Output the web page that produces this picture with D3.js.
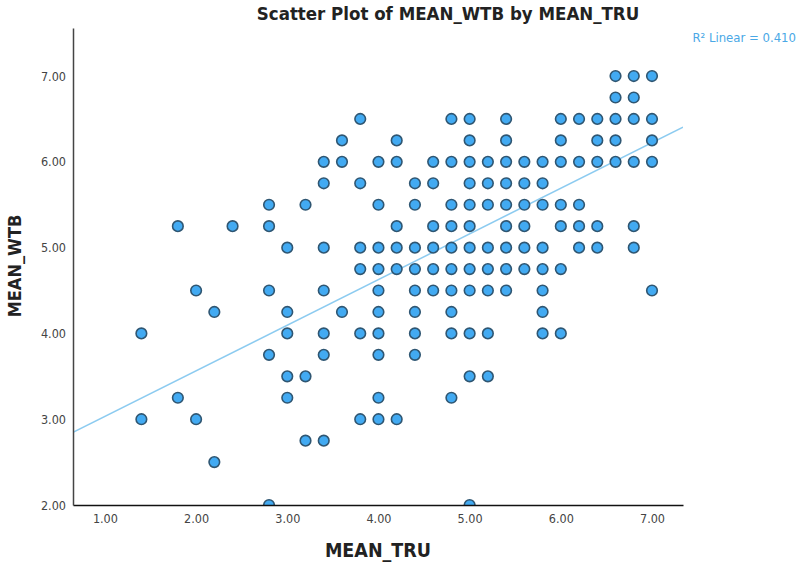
<!DOCTYPE html>
<html>
<head>
<meta charset="utf-8">
<script src="https://cdn.jsdelivr.net/npm/d3@7"></script>
<style>
  body { margin: 0; background: #fff; }
  text { font-family: "Liberation Sans Narrow", "DejaVu Sans Condensed", "Liberation Sans", sans-serif; }
</style>
</head>
<body>
<div id="chart"></div>
<script>
// points: one array of MEAN_TRU values per MEAN_WTB row
var rowWTB = [7.0, 6.75, 6.5, 6.25, 6.0, 5.75, 5.5, 5.25, 5.0, 4.75, 4.5, 4.25, 4.0, 3.75, 3.5, 3.25, 3.0, 2.75, 2.5, 2.0];
var rowTRU = [
  [6.6, 6.8, 7.0],
  [6.6, 6.8],
  [3.8, 4.8, 5.0, 5.4, 6.0, 6.2, 6.4, 6.6, 6.8, 7.0],
  [3.6, 4.2, 5.0, 5.4, 6.0, 6.4, 6.6, 7.0],
  [3.4, 3.6, 4.0, 4.2, 4.6, 4.8, 5.0, 5.2, 5.4, 5.6, 5.8, 6.0, 6.2, 6.4, 6.6, 6.8, 7.0],
  [3.4, 3.8, 4.4, 4.6, 5.0, 5.2, 5.4, 5.6, 5.8],
  [2.8, 3.2, 4.0, 4.4, 4.8, 5.0, 5.2, 5.4, 5.6, 5.8, 6.0, 6.2],
  [1.8, 2.4, 2.8, 4.2, 4.6, 4.8, 5.0, 5.4, 5.6, 6.0, 6.2, 6.4, 6.8],
  [3.0, 3.4, 3.8, 4.0, 4.2, 4.4, 4.6, 4.8, 5.0, 5.2, 5.4, 5.6, 5.8, 6.2, 6.4, 6.8],
  [3.8, 4.0, 4.2, 4.4, 4.6, 4.8, 5.0, 5.2, 5.4, 5.6, 5.8, 6.0],
  [2.0, 2.8, 3.4, 4.0, 4.4, 4.6, 4.8, 5.0, 5.2, 5.4, 5.8, 7.0],
  [2.2, 3.0, 3.6, 4.0, 4.4, 4.8, 5.8],
  [1.4, 3.0, 3.4, 3.8, 4.0, 4.4, 4.8, 5.0, 5.2, 5.8, 6.0],
  [2.8, 3.4, 4.0, 4.4],
  [3.0, 3.2, 5.0, 5.2],
  [1.8, 3.0, 4.0, 4.8],
  [1.4, 2.0, 3.8, 4.0, 4.2],
  [3.2, 3.4],
  [2.2],
  [2.8, 5.0]
];
var xTicks = [1, 2, 3, 4, 5, 6, 7];
var yTicks = [2, 3, 4, 5, 6, 7];
var fitLine = [2.50, 0.532]; // intercept, slope
var rSquared = 0.410;

var W = 798, H = 563;
var margin = {top: 28, right: 115, bottom: 58, left: 73};
var w = W - margin.left - margin.right;
var h = H - margin.top - margin.bottom;

var points = [];
rowWTB.forEach(function(yv, i) {
  rowTRU[i].forEach(function(xv) { points.push({x: xv, y: yv}); });
});

var svg = d3.select("#chart").append("svg")
  .attr("width", W).attr("height", H);

var g = svg.append("g")
  .attr("transform", "translate(" + margin.left + "," + margin.top + ")");

var xScale = d3.scaleLinear().domain([0.65, 7.34]).range([0, w]);
var yScale = d3.scaleLinear().domain([2, 7.56]).range([h, 0]);

g.append("clipPath").attr("id", "plotClip")
  .append("rect").attr("x", 0).attr("y", 0).attr("width", w).attr("height", h);

// fit line
var x0 = xScale.domain()[0], x1 = xScale.domain()[1];
g.append("line")
  .attr("clip-path", "url(#plotClip)")
  .attr("x1", xScale(x0)).attr("y1", yScale(fitLine[0] + fitLine[1] * x0))
  .attr("x2", xScale(x1)).attr("y2", yScale(fitLine[0] + fitLine[1] * x1))
  .attr("stroke", "#8ccbf0")
  .attr("stroke-width", 1.5);

g.append("g").attr("clip-path", "url(#plotClip)")
  .selectAll("circle")
  .data(points)
  .enter().append("circle")
  .attr("cx", function(d) { return xScale(d.x); })
  .attr("cy", function(d) { return yScale(d.y); })
  .attr("r", 5.3)
  .attr("fill", "#42aaf2")
  .attr("stroke", "#2f5672")
  .attr("stroke-width", 1.6);

// axes
var xAxis = g.append("g")
  .attr("transform", "translate(0," + h + ")")
  .call(d3.axisBottom(xScale).tickValues(xTicks).tickSize(0).tickPadding(9)
    .tickFormat(d3.format(".2f")));
xAxis.select(".domain").attr("stroke", "#111").attr("stroke-width", 1.5);
xAxis.selectAll("text").attr("font-size", 12.5).attr("fill", "#444")
  .style("font-family", "'Liberation Sans Narrow', 'DejaVu Sans Condensed', sans-serif");

var yAxis = g.append("g")
  .call(d3.axisLeft(yScale).tickValues(yTicks).tickSize(0).tickPadding(7)
    .tickFormat(d3.format(".2f")));
yAxis.select(".domain").attr("stroke", "#444").attr("stroke-width", 1.5);
yAxis.selectAll("text").attr("font-size", 12.5).attr("fill", "#444")
  .style("font-family", "'Liberation Sans Narrow', 'DejaVu Sans Condensed', sans-serif");

// titles
svg.append("text")
  .attr("x", 448).attr("y", 20)
  .attr("text-anchor", "middle")
  .attr("font-size", 18.5).attr("font-weight", "bold").attr("fill", "#222")
  .text("Scatter Plot of MEAN_WTB by MEAN_TRU");

svg.append("text")
  .attr("x", 378).attr("y", 557)
  .attr("text-anchor", "middle")
  .attr("font-size", 19.5).attr("font-weight", "bold").attr("fill", "#222")
  .text("MEAN_TRU");

svg.append("text")
  .attr("transform", "translate(21,266) rotate(-90)")
  .attr("text-anchor", "middle")
  .attr("font-size", 18).attr("font-weight", "bold").attr("fill", "#222")
  .text("MEAN_WTB");

svg.append("text")
  .attr("x", 796).attr("y", 42)
  .attr("text-anchor", "end")
  .attr("font-size", 13).attr("fill", "#4aa8e6")
  .text("R\u00b2 Linear = " + rSquared.toFixed(3));
</script>
</body>
</html>
